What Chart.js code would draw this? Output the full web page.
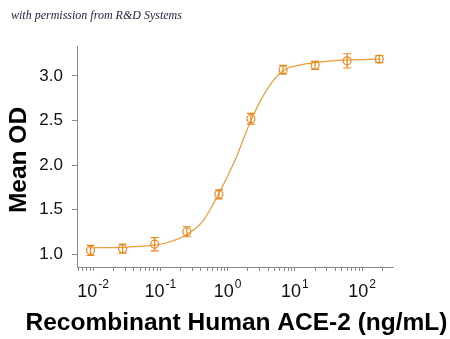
<!DOCTYPE html>
<html>
<head>
<meta charset="utf-8">
<script src="https://cdn.jsdelivr.net/npm/chart.js@4.4.1/dist/chart.umd.min.js"></script>
<style>
  body { margin: 0; background: #fff; }
  #wrap { position: relative; width: 450px; height: 339px; }
  #credit {
    position: absolute; left: 11px; top: 8px;
    font: italic 12px "Liberation Serif", serif; color: #1f1f3a;
  }
</style>
</head>
<body>
<div id="wrap">
  <canvas id="chart"></canvas>
  <div id="credit">with permission from R&amp;D Systems</div>
</div>
<script>
// ACE-2 dose response (3-fold dilutions), mean OD with error
const doses = [0.00914, 0.0274, 0.0823, 0.247, 0.741, 2.22, 6.67, 20, 60, 180];
const meanOD = [1.04, 1.06, 1.11, 1.25, 1.67, 2.52, 3.07, 3.12, 3.17, 3.19];
const odErr = [0.056, 0.05, 0.075, 0.056, 0.05, 0.06, 0.05, 0.045, 0.08, 0.04];

// fitted curve read along the dose range
const fitDoses = [0.00914, 0.0274, 0.0475, 0.0823, 0.143, 0.247, 0.428, 0.741, 1.283, 2.22, 3.85, 6.67, 11.5, 20, 60, 180];
const fitOD = [1.07, 1.075, 1.085, 1.10, 1.14, 1.22, 1.37, 1.68, 2.05, 2.50, 2.85, 3.06, 3.12, 3.15, 3.18, 3.19];

const decadeExps = [-2, -1, 0, 1, 2];
const yTicks = [1.0, 1.5, 2.0, 2.5, 3.0];
const xTitle = 'Recombinant Human ACE-2 (ng/mL)';
const yTitle = 'Mean OD';

const ORANGE = '#E8861A';
const LINE = '#EE9A36';
const AXIS = '#8a8a8a';
const SANS = '"Liberation Sans", Arial, sans-serif';

// vertical error bars with caps
const errorBars = {
  id: 'errorBars',
  afterDatasetsDraw(chart) {
    const { ctx, scales: { x, y } } = chart;
    ctx.save();
    ctx.strokeStyle = ORANGE;
    ctx.lineWidth = 1.2;
    doses.forEach((d, i) => {
      const px = x.getPixelForValue(d);
      const top = y.getPixelForValue(meanOD[i] + odErr[i]);
      const bot = y.getPixelForValue(meanOD[i] - odErr[i]);
      ctx.beginPath();
      ctx.moveTo(px, top); ctx.lineTo(px, bot);
      ctx.moveTo(px - 4, top); ctx.lineTo(px + 4, top);
      ctx.moveTo(px - 4, bot); ctx.lineTo(px + 4, bot);
      ctx.stroke();
    });
    ctx.restore();
  }
};

// 10^n labels with raised exponent, plus both axis titles
// (the built-in scale title gets squeezed to the plot width)
const axisText = {
  id: 'axisText',
  afterDraw(chart) {
    const { ctx, scales: { x } } = chart;
    ctx.save();
    ctx.fillStyle = '#111';
    ctx.textBaseline = 'alphabetic';
    decadeExps.forEach(e => {
      const px = x.getPixelForValue(Math.pow(10, e));
      const exp = String(e);
      ctx.font = '18px ' + SANS;
      const wBase = ctx.measureText('10').width;
      ctx.font = '12px ' + SANS;
      const wExp = ctx.measureText(exp).width;
      const left = px - (wBase + 1 + wExp) / 2;
      ctx.font = '18px ' + SANS;
      ctx.fillText('10', left, 297);
      ctx.font = '12px ' + SANS;
      ctx.fillText(exp, left + wBase + 1, 288);
    });

    ctx.fillStyle = '#000';
    ctx.font = 'bold 24.5px ' + SANS;
    ctx.textAlign = 'center';
    ctx.textBaseline = 'middle';
    ctx.fillText(xTitle, 236.5, 323);

    ctx.translate(19, 160);
    ctx.rotate(-Math.PI / 2);
    ctx.font = 'bold 24.5px ' + SANS;
    ctx.fillText(yTitle, 0, 0);
    ctx.restore();
  }
};

function logTicks(min, max) {
  const out = [];
  for (let e = -3; e <= 2; e++) {
    for (let m = 1; m <= 9; m++) {
      const v = m * Math.pow(10, e);
      if (v >= min && v <= max) out.push({ value: v });
    }
  }
  return out;
}

new Chart(document.getElementById('chart'), {
  type: 'line',
  data: {
    datasets: [
      {
        label: 'Fit',
        data: fitDoses.map((d, i) => ({ x: d, y: fitOD[i] })),
        borderColor: LINE,
        borderWidth: 1.2,
        pointRadius: 0,
        cubicInterpolationMode: 'monotone',
        fill: false
      },
      {
        label: 'Mean OD',
        data: doses.map((d, i) => ({ x: d, y: meanOD[i] })),
        showLine: false,
        pointRadius: 4,
        pointBorderWidth: 1.2,
        pointBorderColor: ORANGE,
        pointBackgroundColor: 'rgba(255,255,255,0)'
      }
    ]
  },
  options: {
    responsive: true,
    maintainAspectRatio: false,
    animation: false,
    layout: { padding: { top: 46, right: 57, left: 0, bottom: 0 } },
    plugins: {
      legend: { display: false },
      tooltip: { enabled: false }
    },
    scales: {
      x: {
        type: 'logarithmic',
        min: 0.00575,
        max: 288,
        afterBuildTicks: (scale) => { scale.ticks = logTicks(scale.min, scale.max); },
        afterFit: (scale) => { scale.height = 72; },
        ticks: { callback: () => '', autoSkip: false, maxRotation: 0 },
        grid: { drawOnChartArea: false, tickLength: 4, color: AXIS },
        border: { color: AXIS, width: 1 }
      },
      y: {
        min: 0.854,
        max: 3.337,
        afterBuildTicks: (scale) => { scale.ticks = yTicks.map(v => ({ value: v })); },
        afterFit: (scale) => { scale.width = 77; },
        ticks: {
          color: '#111',
          padding: 9,
          font: { family: SANS, size: 17 },
          callback: (v) => v.toFixed(1)
        },
        grid: { drawOnChartArea: false, tickLength: 5, color: AXIS },
        border: { color: AXIS, width: 1 }
      }
    }
  },
  plugins: [errorBars, axisText]
});
</script>
</body>
</html>
